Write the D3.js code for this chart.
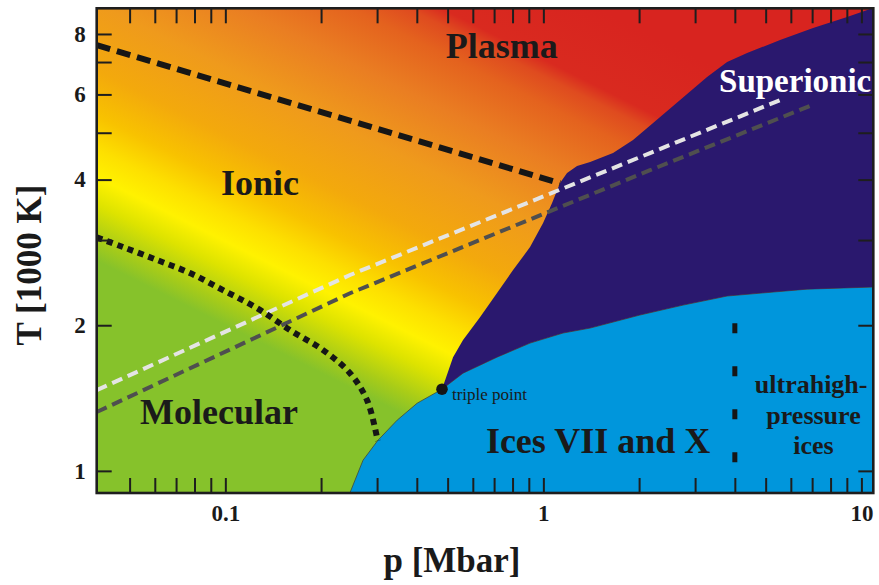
<!DOCTYPE html>
<html>
<head>
<meta charset="utf-8">
<script src="https://cdn.jsdelivr.net/npm/d3@7"></script>
<style>
  body { margin: 0; background: #fff; }
  svg text { font-family: "Liberation Serif", "Times New Roman", serif; fill: #1a1a1a; }
</style>
</head>
<body>
<svg id="chart" width="879" height="585"></svg>
<script>
// water phase diagram, p in Mbar, T in 1000 K

// melting curve of ice, from bottom of the plot up to the triple point
var meltP = [0.243, 0.271, 0.302, 0.347, 0.401, 0.480];
var meltT = [0.88, 1.052, 1.157, 1.273, 1.380, 1.475];

// superionic / fluid boundary, from the triple point to top right
var superP = [0.480, 0.520, 0.559, 0.632, 0.715, 0.803, 0.908, 0.998, 1.065, 1.128, 1.187, 1.276,
	1.403, 1.656, 1.914, 2.213, 2.691, 3.272, 3.782, 4.371, 5.551, 7.048, 9.017, 10.88];
var superT = [1.475, 1.718, 1.864, 2.078, 2.331, 2.600, 2.901, 3.252, 3.577, 3.935, 4.127, 4.267,
	4.349, 4.539, 4.829, 5.236, 5.843, 6.520, 7.000, 7.306, 7.775, 8.231, 8.675, 9.05];

// ice / superionic boundary
var iceP = [0.480, 0.559, 0.715, 0.908, 1.153, 1.403, 2.010, 2.750, 3.782, 5.277, 6.750, 10.88];
var iceT = [1.475, 1.592, 1.718, 1.837, 1.927, 1.973, 2.099, 2.201, 2.298, 2.342, 2.375, 2.399];

// dotted molecular / ionic line
var dotP = [0.0394, 0.0477, 0.0610, 0.0774, 0.0983, 0.1258, 0.1598, 0.2029, 0.2466, 0.2790, 0.2999, 0.302];
var dotT = [3.04, 2.901, 2.728, 2.564, 2.364, 2.170, 1.954, 1.777, 1.592, 1.400, 1.174, 1.154];

// black dashed ionic / plasma line
var plasmaP = [0.0394, 1.128];
var plasmaT = [7.59, 3.93];

// light and dark grey isentropes
var lightP = [0.0394, 0.2466, 2.165, 5.551];
var lightT = [1.468, 2.54, 4.539, 5.84];
var darkP = [0.0394, 0.2466, 2.165, 6.998];
var darkT = [1.323, 2.329, 4.183, 5.704];

// vertical dashed line at 4 Mbar
var ultraP = [4.0, 4.0];
var ultraT = [2.02, 1.042];

var triplePoint = [0.480, 1.475];

var xTicks = [0.05, 0.06, 0.07, 0.08, 0.09, 0.1, 0.2, 0.3, 0.4, 0.5, 0.6, 0.7, 0.8, 0.9,
	1, 2, 3, 4, 5, 6, 7, 8, 9, 10];
var xTickLabels = {0.1: "0.1", 1: "1", 10: "10"};
var yTicks = [1, 2, 3, 4, 5, 6, 7, 8];
var yTickLabels = {1: "1", 2: "2", 4: "4", 6: "6", 8: "8"};

var regionNames = ["Plasma", "Ionic", "Molecular", "Ices VII and X", "Superionic"];
var regionP = [0.740, 0.1286, 0.0955, 1.486, 6.19];
var regionT = [7.14, 3.716, 1.249, 1.088, 6.07];

var ultraLines = ["ultrahigh-", "pressure", "ices"];
var ultraLineP = [6.95, 7.07, 7.07];
var ultraLineT = [1.447, 1.249, 1.083];

var zip = function(a, b){
	return a.map(function(d, i){ return [d, b[i]]; });
};

var plot = {left: 96.7, right: 873.3, top: 8.3, bottom: 493};

var svg = d3.select('#chart');

var x = d3.scaleLog().domain([0.0394, 10.9]).range([plot.left, plot.right]);
var y = d3.scaleLog().domain([0.9, 9.04]).range([plot.bottom, plot.top]);

var line = d3.line()
	.x(function(d){ return x(d[0]); })
	.y(function(d){ return y(d[1]); });

var smooth = d3.line()
	.x(function(d){ return x(d[0]); })
	.y(function(d){ return y(d[1]); })
	.curve(d3.curveCatmullRom);

var defs = svg.append('defs');

defs.append('clipPath').attr('id', 'clip')
	.append('rect')
	.attr('x', plot.left).attr('y', plot.top)
	.attr('width', plot.right - plot.left)
	.attr('height', plot.bottom - plot.top);

// background colour runs across diagonal bands (direction 1,-2)
var gradStops = [
	[-190, '#86c22b'], [-170, '#a8cc18'], [-140, '#dde300'], [-115, '#fff200'],
	[-90, '#fde000'], [-60, '#f8c200'], [-20, '#f3a90c'], [40, '#ef9a1c'],
	[100, '#ea7e22'], [150, '#e4621e'], [175, '#df4b1f'], [190, '#d92a1f'], [260, '#d8241f']
];
var ux = 1 / Math.sqrt(5), uy = -2 / Math.sqrt(5);
var sMin = -190, sMax = 260;
var grad = defs.append('linearGradient').attr('id', 'bg')
	.attr('gradientUnits', 'userSpaceOnUse')
	.attr('x1', sMin * ux).attr('y1', sMin * uy)
	.attr('x2', sMax * ux).attr('y2', sMax * uy);
grad.selectAll('stop').data(gradStops).enter().append('stop')
	.attr('offset', function(d){ return (d[0] - sMin) / (sMax - sMin); })
	.attr('stop-color', function(d){ return d[1]; });

var g = svg.append('g').attr('clip-path', 'url(#clip)');

g.append('rect')
	.attr('x', plot.left).attr('y', plot.top)
	.attr('width', plot.right - plot.left)
	.attr('height', plot.bottom - plot.top)
	.style('fill', 'url(#bg)');

// ice region
var icePoly = zip(meltP, meltT)
	.concat(zip(iceP, iceT).slice(1))
	.concat([[14, 2.399], [14, 0.8], [0.243, 0.8]]);
g.append('path')
	.attr('d', line(icePoly) + 'Z')
	.style('fill', '#0096dc')
	.style('stroke', '#3d4a3a')
	.style('stroke-width', 0.8);

// superionic region
var superPoly = zip(superP, superT)
	.concat([[14, 9.6], [14, 2.399]])
	.concat(zip(iceP, iceT).reverse());
g.append('path')
	.attr('d', line(superPoly) + 'Z')
	.style('fill', '#2a186e');

// dashed lines
g.append('path').attr('d', line(zip(lightP, lightT)))
	.style('fill', 'none').style('stroke', '#e4e4e4')
	.style('stroke-width', 4).style('stroke-dasharray', '11,6');
g.append('path').attr('d', line(zip(darkP, darkT)))
	.style('fill', 'none').style('stroke', '#4f4f4f')
	.style('stroke-width', 4).style('stroke-dasharray', '11,6');
g.append('path').attr('d', line(zip(plasmaP, plasmaT)))
	.style('fill', 'none').style('stroke', '#161616')
	.style('stroke-width', 6).style('stroke-dasharray', '14,7');
g.append('path').attr('d', smooth(zip(dotP, dotT)))
	.style('fill', 'none').style('stroke', '#161616')
	.style('stroke-width', 6).style('stroke-dasharray', '6,5');
g.append('path').attr('d', line(zip(ultraP, ultraT)))
	.style('fill', 'none').style('stroke', '#161616')
	.style('stroke-width', 5).style('stroke-dasharray', '10,33');

// triple point
g.append('circle')
	.attr('cx', x(triplePoint[0])).attr('cy', y(triplePoint[1]))
	.attr('r', 5.8).style('fill', '#151515');
g.append('text')
	.attr('x', x(triplePoint[0]) + 10).attr('y', y(triplePoint[1]) + 11)
	.style('font-size', '17px')
	.text('triple point');

// region labels
g.selectAll('.region').data(regionNames).enter().append('text')
	.attr('class', 'region')
	.attr('x', function(d, i){ return x(regionP[i]); })
	.attr('y', function(d, i){ return y(regionT[i]); })
	.attr('text-anchor', 'middle')
	.style('font-size', function(d){ return d == 'Superionic' ? '33px' : '36px'; })
	.style('font-weight', 'bold')
	.style('fill', function(d){ return d == 'Superionic' ? '#ffffff' : '#1a1a1a'; })
	.text(function(d){ return d; });

g.selectAll('.ultra').data(ultraLines).enter().append('text')
	.attr('class', 'ultra')
	.attr('x', function(d, i){ return x(ultraLineP[i]); })
	.attr('y', function(d, i){ return y(ultraLineT[i]); })
	.attr('text-anchor', 'middle')
	.style('font-size', '26px')
	.style('font-weight', 'bold')
	.text(function(d){ return d; });

// axes, ticks pointing inward
var fmtX = function(d){ return xTickLabels[d] || ''; };
var fmtY = function(d){ return yTickLabels[d] || ''; };

var axes = [
	[d3.axisBottom(x).tickValues(xTicks).tickFormat(fmtX).tickPadding(12), 'translate(0,' + plot.bottom + ')'],
	[d3.axisTop(x).tickValues(xTicks).tickFormat(''), 'translate(0,' + plot.top + ')'],
	[d3.axisLeft(y).tickValues(yTicks).tickFormat(fmtY).tickPadding(11), 'translate(' + plot.left + ',0)'],
	[d3.axisRight(y).tickValues(yTicks).tickFormat(''), 'translate(' + plot.right + ',0)']
];
axes.forEach(function(a){
	var ax = svg.append('g').attr('transform', a[1])
		.call(a[0].tickSizeInner(-15).tickSizeOuter(0));
	ax.select('.domain').remove();
	ax.selectAll('.tick line').style('stroke', '#1e1e1e').style('stroke-width', 2);
	ax.selectAll('.tick text')
		.style('font-family', '"Liberation Serif", "Times New Roman", serif')
		.style('font-size', '23px').style('font-weight', 'bold').style('fill', '#1a1a1a');
});

svg.append('rect')
	.attr('x', plot.left).attr('y', plot.top)
	.attr('width', plot.right - plot.left)
	.attr('height', plot.bottom - plot.top)
	.style('fill', 'none').style('stroke', '#1e1e1e').style('stroke-width', 2.6);

// axis titles
svg.append('text')
	.attr('x', 452).attr('y', 572)
	.attr('text-anchor', 'middle')
	.style('font-size', '35px').style('font-weight', 'bold')
	.text('p [Mbar]');

svg.append('text')
	.attr('transform', 'translate(41,265) rotate(-90)')
	.attr('text-anchor', 'middle')
	.style('font-size', '35px').style('font-weight', 'bold')
	.text('T [1000 K]');
</script>
</body>
</html>
